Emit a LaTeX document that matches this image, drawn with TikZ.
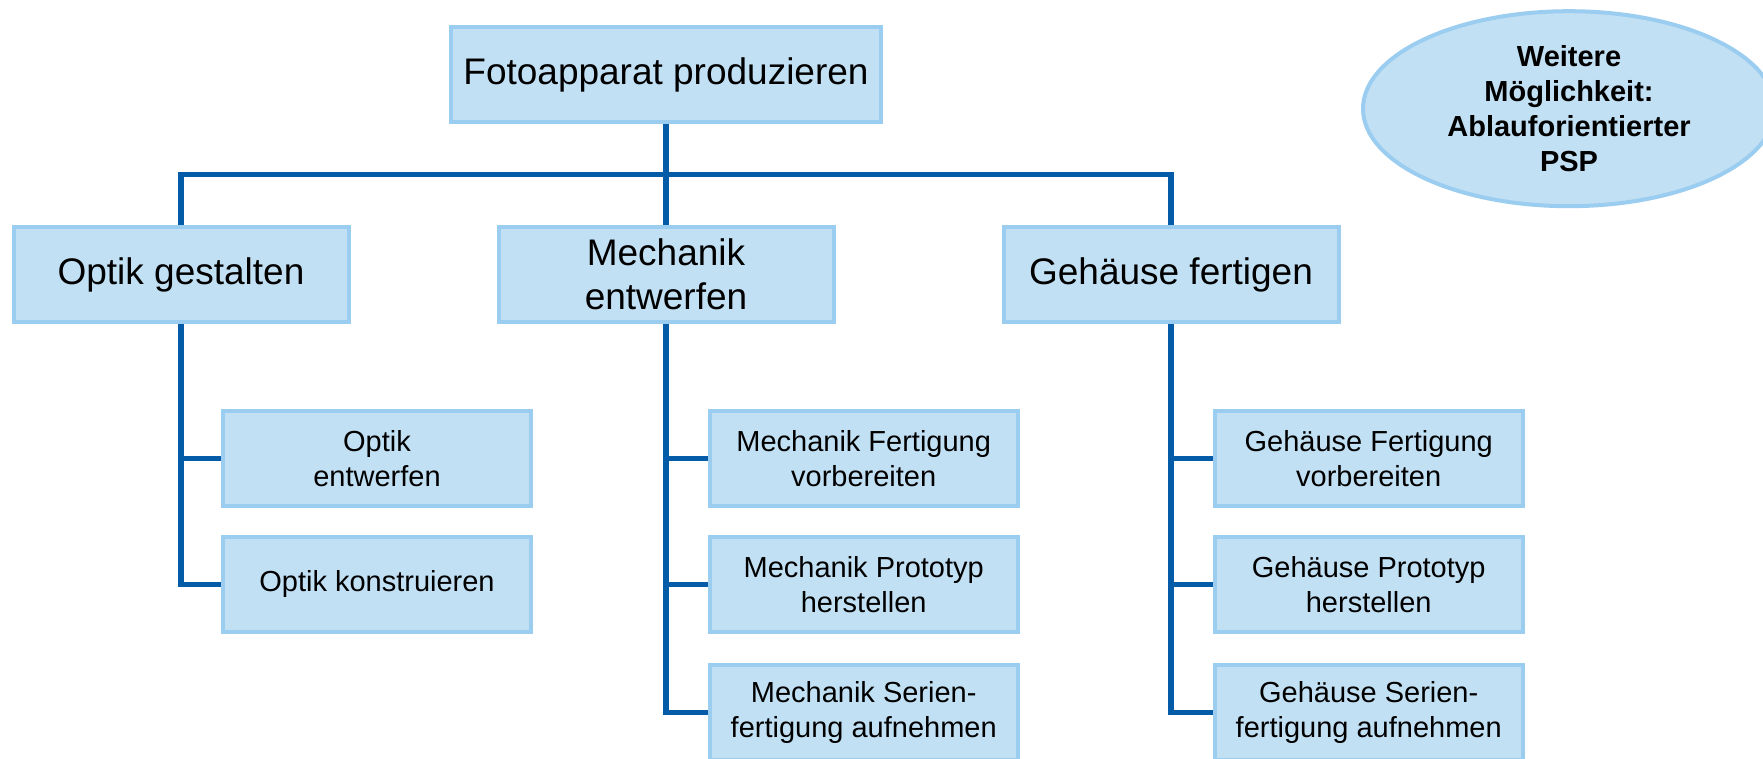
\documentclass[tikz,border=0pt]{standalone}
\usepackage{fontspec}
\setmainfont{Liberation Sans}
\usetikzlibrary{shapes.geometric,backgrounds}
\definecolor{boxfill}{HTML}{C2E0F4}
\definecolor{boxline}{HTML}{9ACDF0}
\definecolor{conn}{HTML}{045CA8}
\tikzset{
  wbs/.style={draw=boxline, fill=boxfill, line width=4pt, inner sep=0pt, align=center, minimum height=95pt},
  big/.style={wbs, minimum width=335pt, font=\fontsize{37}{44.4}\selectfont},
  small/.style={wbs, minimum width=308pt, font=\fontsize{29}{34.8}\selectfont},
  note/.style={ellipse, draw=boxline, fill=boxfill, line width=4pt, inner sep=0pt, align=center,
     minimum width=412pt, minimum height=195pt, font=\fontsize{29}{34.8}\selectfont\bfseries},
  link/.style={draw=conn, line width=5.5pt}
}
\begin{document}
\begin{tikzpicture}[x=1pt, y=-1pt]
\useasboundingbox (0,0) rectangle (1763,758);
% level 1
\node[big, minimum width=430pt] (top) at (666,74.5) {Fotoapparat produzieren};
% level 2
\node[big] (opt) at (181,274.5) {Optik gestalten};
\node[big] (mech) at (666,274.5) {Mechanik\\entwerfen};
\node[big] (geh) at (1171,274.5) {Gehäuse fertigen};
% level 3
\node[small] (o1) at (377,458.4) {Optik\\entwerfen};
\node[small] (o2) at (377,584.4) {Optik konstruieren};
\node[small] (m1) at (863.7,458.4) {Mechanik Fertigung\\vorbereiten};
\node[small] (m2) at (863.7,584.4) {Mechanik Prototyp\\herstellen};
\node[small] (m3) at (863.7,712.5) {Mechanik Serien-\\fertigung aufnehmen};
\node[small] (g1) at (1368.7,458.4) {Gehäuse Fertigung\\vorbereiten};
\node[small] (g2) at (1368.7,584.4) {Gehäuse Prototyp\\herstellen};
\node[small] (g3) at (1368.7,712.5) {Gehäuse Serien-\\fertigung aufnehmen};
% note
\node[note] (psp) at (1569,108.7) {Weitere\\Möglichkeit:\\Ablauforientierter\\PSP};
% connectors
\coordinate (bus) at (666,174.5);
\begin{pgfonlayer}{background}
\fill[white] (0,0) rectangle (1763,758);
\draw[link] (top.south) -- (mech.north);
\draw[link] (opt.north) |- (bus) -| (geh.north);
\draw[link] (opt.south) |- (o2.west);
\draw[link] (opt.south |- o1.west) -- (o1.west);
\draw[link] (mech.south) |- (m3.west);
\draw[link] (mech.south |- m1.west) -- (m1.west);
\draw[link] (mech.south |- m2.west) -- (m2.west);
\draw[link] (geh.south) |- (g3.west);
\draw[link] (geh.south |- g1.west) -- (g1.west);
\draw[link] (geh.south |- g2.west) -- (g2.west);
\end{pgfonlayer}
\end{tikzpicture}
\end{document}
